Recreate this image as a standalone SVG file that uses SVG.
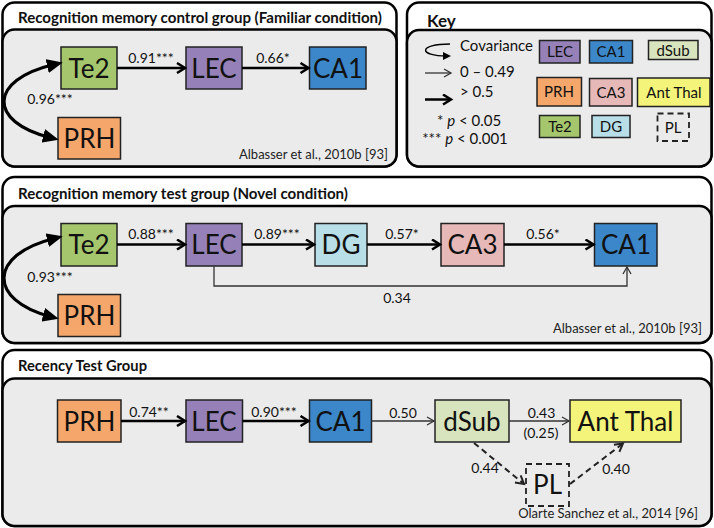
<svg xmlns="http://www.w3.org/2000/svg" width="714" height="528" viewBox="0 0 714 528">
<style>
text{font-family:Lato,"Open Sans","Liberation Sans",sans-serif;fill:#111}
.title{font-weight:bold;font-size:14.5px}
.node{font-size:26px;text-anchor:middle}
.knode{font-size:15px;text-anchor:middle}
.lbl{font-size:14px;text-anchor:middle}
.cite{font-size:13px;text-anchor:end;fill:#222}
.key{font-size:15px}
.outer{fill:#fff;stroke:#000;stroke-width:2.5}
.inner{fill:#ebebeb;stroke:#000;stroke-width:2.5}
.box{stroke:#222;stroke-width:1.5}
.thick{stroke:#000;stroke-width:2.5;fill:none;marker-end:url(#ahThick)}
.thin{stroke:#333;stroke-width:1.3;fill:none;marker-end:url(#ahThin)}
.dash{stroke:#222;stroke-width:2;fill:none;stroke-dasharray:6 4;marker-end:url(#ahDash)}
.cov{stroke:#000;stroke-width:3.2;fill:none;marker-start:url(#ahFill);marker-end:url(#ahFill)}
.te2{fill:#a5c66d}.lec{fill:#9581b8}.ca1{fill:#3b87c9}.prh{fill:#f5a66b}
.dg{fill:#b8dee8}.ca3{fill:#e6b8b7}.dsub{fill:#d8e4bd}.ant{fill:#f4f47a}
.pl{fill:none;stroke:#222;stroke-width:1.8;stroke-dasharray:6 4}
</style>
<defs>
<marker id="ahThick" viewBox="0 0 12 12" markerWidth="12" markerHeight="12" refX="9.5" refY="6" orient="auto" markerUnits="userSpaceOnUse"><path d="M1.5,1 L9.5,6 L1.5,11" fill="none" stroke="#000" stroke-width="2.5"/></marker>
<marker id="ahThin" viewBox="0 0 10 10" markerWidth="10" markerHeight="10" refX="8" refY="5" orient="auto" markerUnits="userSpaceOnUse"><path d="M1,1 L8,5 L1,9" fill="none" stroke="#333" stroke-width="1.3"/></marker>
<marker id="ahDash" viewBox="0 0 12 12" markerWidth="12" markerHeight="12" refX="9.5" refY="6" orient="auto" markerUnits="userSpaceOnUse"><path d="M1.5,1.5 L9.5,6 L1.5,10.5" fill="none" stroke="#222" stroke-width="2"/></marker>
<marker id="ahFill" viewBox="0 0 16 14" markerWidth="16" markerHeight="14" refX="7" refY="7" orient="auto-start-reverse" markerUnits="userSpaceOnUse"><path d="M0,0 L16,7 L0,14 Z" fill="#000"/></marker>
<marker id="ahSmall" viewBox="0 0 8 8" markerWidth="8" markerHeight="8" refX="4" refY="4" orient="auto" markerUnits="userSpaceOnUse"><path d="M0,0 L8,4 L0,8 Z" fill="#000"/></marker>
</defs>

<!-- Panel frames -->
<g id="panel1">
<rect class="outer" x="2.5" y="2.5" width="394" height="164" rx="12"/>
<rect class="inner" x="2.5" y="29.5" width="394" height="137" rx="12"/>
<text class="title" x="18" y="23" textLength="364" lengthAdjust="spacingAndGlyphs">Recognition memory control group (Familiar condition)</text>
<text class="cite" x="388" y="159">Albasser et al., 2010b [93]</text>
</g>
<g id="panelKey">
<rect class="outer" x="407" y="2.5" width="304.5" height="164" rx="12"/>
<rect class="inner" x="407" y="30" width="304.5" height="136.5" rx="12"/>
<text x="427" y="27" style="font-weight:bold;font-size:17px">Key</text>
</g>
<g id="panel2">
<rect class="outer" x="2.5" y="177" width="709" height="166" rx="12"/>
<rect class="inner" x="2.5" y="206" width="709" height="137" rx="12"/>
<text class="title" x="18" y="199" textLength="330" lengthAdjust="spacingAndGlyphs">Recognition memory test group (Novel condition)</text>
<text class="cite" x="702" y="333">Albasser et al., 2010b [93]</text>
</g>
<g id="panel3">
<rect class="outer" x="2.5" y="350" width="709" height="176" rx="12"/>
<rect class="inner" x="2.5" y="378.5" width="709" height="147.5" rx="12"/>
<text class="title" x="18" y="371" textLength="129" lengthAdjust="spacingAndGlyphs">Recency Test Group</text>
<text class="cite" x="698" y="518">Olarte Sanchez et al., 2014 [96]</text>
</g>

<!-- Key contents -->
<g id="key-legend">
<path d="M450,44 C418,44 418,56 447,56" stroke="#000" stroke-width="1.5" fill="none" marker-end="url(#ahSmall)"/>
<text class="key" x="460" y="50.5">Covariance</text>
<line x1="425" y1="73" x2="451" y2="73" class="thin"/>
<text class="key" x="460" y="77">0 – 0.49</text>
<text class="key" x="460" y="97">&gt; 0.5</text>
<line x1="425" y1="99.5" x2="451" y2="99.5" class="thick"/>
<text class="key" x="469" y="125.5" text-anchor="middle">* <tspan font-style="italic">p</tspan> &lt; 0.05</text>
<text class="key" x="465" y="144" text-anchor="middle">*** <tspan font-style="italic">p</tspan> &lt; 0.001</text>
</g>
<g id="key-LEC"><rect class="box lec" x="539.5" y="40.5" width="40.5" height="22.5"/><text class="knode" x="560" y="57">LEC</text></g>
<g id="key-CA1"><rect class="box ca1" x="589.5" y="40.5" width="43" height="22.5"/><text class="knode" x="611" y="57">CA1</text></g>
<g id="key-dSub"><rect class="box dsub" x="648.5" y="40.5" width="49.5" height="19"/><text class="knode" x="673" y="55.5">dSub</text></g>
<g id="key-PRH"><rect class="box prh" x="537" y="77.5" width="44.5" height="28.5"/><text class="knode" x="559" y="97">PRH</text></g>
<g id="key-CA3"><rect class="box ca3" x="589.5" y="78.5" width="42.5" height="27.5"/><text class="knode" x="611" y="97.5">CA3</text></g>
<g id="key-AntThal"><rect class="box ant" x="637.5" y="78" width="72.5" height="28.5"/><text class="knode" x="674" y="97.5">Ant Thal</text></g>
<g id="key-Te2"><rect class="box te2" x="539.5" y="115.5" width="40.5" height="22"/><text class="knode" x="560" y="131.5">Te2</text></g>
<g id="key-DG"><rect class="box dg" x="592" y="115.5" width="38" height="22"/><text class="knode" x="611" y="131.5">DG</text></g>
<g id="key-PL"><rect class="pl" x="657.5" y="113.5" width="31.5" height="27.5"/><text class="knode" x="673" y="132.5">PL</text></g>

<!-- Panel 1 nodes -->
<g id="p1-Te2"><rect class="box te2" x="61" y="47" width="56" height="42"/><text class="node" x="89" y="77.5">Te2</text></g>
<g id="p1-LEC"><rect class="box lec" x="186" y="47" width="56" height="42"/><text class="node" x="214" y="77.5">LEC</text></g>
<g id="p1-CA1"><rect class="box ca1" x="309.5" y="47" width="56.5" height="42"/><text class="node" x="338" y="77.5">CA1</text></g>
<g id="p1-PRH"><rect class="box prh" x="58" y="117.5" width="62.5" height="41.5"/><text class="node" x="89.5" y="147.5">PRH</text></g>

<!-- Panel 2 nodes -->
<g id="p2-Te2"><rect class="box te2" x="61" y="223.5" width="56" height="42.5"/><text class="node" x="89" y="254">Te2</text></g>
<g id="p2-LEC"><rect class="box lec" x="186" y="223.5" width="56" height="42.5"/><text class="node" x="214" y="254">LEC</text></g>
<g id="p2-DG"><rect class="box dg" x="315" y="223.5" width="52" height="42.5"/><text class="node" x="341" y="254">DG</text></g>
<g id="p2-CA3"><rect class="box ca3" x="441" y="223.5" width="63" height="42.5"/><text class="node" x="472.5" y="254">CA3</text></g>
<g id="p2-CA1"><rect class="box ca1" x="594.5" y="223.5" width="62.5" height="42.5"/><text class="node" x="626" y="254">CA1</text></g>
<g id="p2-PRH"><rect class="box prh" x="58" y="294.5" width="62.5" height="42"/><text class="node" x="89.5" y="325">PRH</text></g>

<!-- Panel 3 nodes -->
<g id="p3-PRH"><rect class="box prh" x="57.5" y="400" width="63.5" height="42"/><text class="node" x="89.5" y="430.5">PRH</text></g>
<g id="p3-LEC"><rect class="box lec" x="186" y="400" width="56.5" height="42"/><text class="node" x="214" y="430.5">LEC</text></g>
<g id="p3-CA1"><rect class="box ca1" x="309.5" y="400" width="62" height="42"/><text class="node" x="340.5" y="430.5">CA1</text></g>
<g id="p3-dSub"><rect class="box dsub" x="435" y="400" width="74" height="42"/><text class="node" x="472" y="430.5">dSub</text></g>
<g id="p3-AntThal"><rect class="box ant" x="570" y="400" width="111" height="42"/><text class="node" x="625.5" y="430.5">Ant Thal</text></g>
<g id="p3-PL"><rect class="pl" x="526" y="464" width="43" height="42"/><text class="node" x="547.5" y="494">PL</text></g>

<!-- Connectors -->
<g id="connectors">
<path class="cov" d="M54,64.5 C-12,80 -12,122 50,137.5"/>
<line class="thick" x1="117" y1="68" x2="185" y2="68"/>
<line class="thick" x1="242" y1="68" x2="308.5" y2="68"/>

<path class="cov" d="M54,238.5 C-12,255 -12,300 50,316.5"/>
<line class="thick" x1="117" y1="244.5" x2="185" y2="244.5"/>
<line class="thick" x1="242" y1="244.5" x2="314" y2="244.5"/>
<line class="thick" x1="367" y1="244.5" x2="440" y2="244.5"/>
<line class="thick" x1="504" y1="244.5" x2="593.5" y2="244.5"/>
<path class="thin" d="M214,266 V286 H627 V267"/>

<line class="thick" x1="121" y1="421" x2="185" y2="421"/>
<line class="thick" x1="242.5" y1="421" x2="308.5" y2="421"/>
<line class="thin" x1="371.5" y1="421" x2="434" y2="421"/>
<line class="thin" x1="509" y1="421" x2="569" y2="421"/>
<line class="dash" x1="474" y1="443" x2="524" y2="484"/>
<line class="dash" x1="570" y1="484" x2="623" y2="443.5"/>
</g>

<!-- Connector labels -->
<g id="labels">
<text class="lbl" x="151" y="63">0.91***</text>
<text class="lbl" x="273" y="63">0.66*</text>
<text class="lbl" x="50" y="104">0.96***</text>
<text class="lbl" x="151" y="238.5">0.88***</text>
<text class="lbl" x="277" y="238.5">0.89***</text>
<text class="lbl" x="402" y="238.5">0.57*</text>
<text class="lbl" x="543" y="238.5">0.56*</text>
<text class="lbl" x="50" y="282">0.93***</text>
<text class="lbl" x="397" y="303">0.34</text>
<text class="lbl" x="149" y="417">0.74**</text>
<text class="lbl" x="274" y="417">0.90***</text>
<text class="lbl" x="403" y="418">0.50</text>
<text class="lbl" x="541.5" y="418">0.43</text>
<text class="lbl" x="541" y="437.5">(0.25)</text>
<text class="lbl" x="485" y="473">0.44</text>
<text class="lbl" x="616" y="474">0.40</text>
</g>
</svg>
